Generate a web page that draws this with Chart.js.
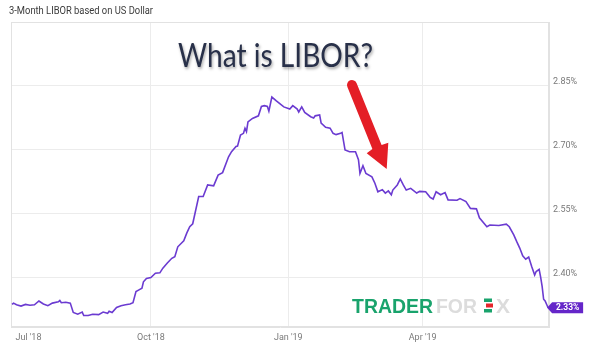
<!DOCTYPE html>
<html>
<head>
<meta charset="utf-8">
<title>3-Month LIBOR</title>
<script src="https://cdn.jsdelivr.net/npm/chart.js@4.4.1/dist/chart.umd.min.js"></script>
<style>
    html, body { margin: 0; padding: 0; background: #fff; }
    #wrap { width: 600px; height: 358px; }
</style>
</head>
<body>
<div id="wrap"><canvas id="libor" width="600" height="358"></canvas></div>
<script>
// days counted from 1 Jul 2018, rates in percent
var days = [-1, 0, 2, 5, 8, 11, 14, 17, 20, 23, 26, 30, 31, 32, 35, 38, 40, 43, 46, 47,
            50, 53, 57, 60, 63, 64, 66, 69, 72, 75, 78, 80, 82, 84, 86, 87, 89, 92, 95, 98,
            100, 103, 106, 108, 110, 114, 116, 118, 120, 124, 127, 130, 134, 137, 140, 144, 146, 149, 150, 152,
            154, 155, 156, 157, 160, 164, 166, 168, 170, 171, 173, 176, 181, 185, 187, 190, 191, 193, 195, 199,
            201, 202, 205, 206, 209, 212, 214, 216, 219, 220, 222, 225, 229, 231, 232, 234, 236, 240, 242, 244,
            247, 249, 251, 253, 254, 257, 259, 261, 263, 266, 270, 272, 276, 279, 281, 283, 286, 289, 291, 297,
            299, 303, 306, 310, 312, 317, 319, 325, 330, 332, 335, 337, 339, 341, 343, 345, 347, 349, 350, 352,
            353, 354, 355, 356, 358];
var rates = [2.338, 2.341, 2.337, 2.334, 2.338, 2.336, 2.337, 2.346, 2.339, 2.335, 2.341, 2.344, 2.347, 2.342, 2.343, 2.341, 2.319, 2.315, 2.320, 2.312,
             2.312, 2.315, 2.314, 2.320, 2.317, 2.322, 2.319, 2.331, 2.335, 2.337, 2.339, 2.342, 2.368, 2.372, 2.376, 2.391, 2.399, 2.401, 2.411, 2.412,
             2.423, 2.435, 2.446, 2.450, 2.473, 2.487, 2.505, 2.520, 2.527, 2.591, 2.591, 2.618, 2.616, 2.641, 2.647, 2.684, 2.696, 2.708, 2.709, 2.735,
             2.739, 2.751, 2.743, 2.766, 2.774, 2.780, 2.802, 2.804, 2.802, 2.791, 2.824, 2.815, 2.801, 2.796, 2.804, 2.796, 2.789, 2.801, 2.788, 2.778,
             2.775, 2.780, 2.782, 2.763, 2.753, 2.751, 2.739, 2.736, 2.739, 2.741, 2.700, 2.696, 2.696, 2.677, 2.645, 2.663, 2.645, 2.637, 2.622, 2.602,
             2.607, 2.599, 2.604, 2.595, 2.606, 2.618, 2.632, 2.618, 2.606, 2.610, 2.599, 2.603, 2.602, 2.589, 2.585, 2.602, 2.595, 2.600, 2.583, 2.582,
             2.586, 2.579, 2.563, 2.562, 2.541, 2.520, 2.524, 2.523, 2.526, 2.520, 2.501, 2.485, 2.470, 2.452, 2.444, 2.449, 2.427, 2.407, 2.415, 2.420,
             2.402, 2.380, 2.350, 2.346, 2.330];

var tickDays = [10, 92, 184, 274];   // Jul label sits a bit right of the edge
var tickLabels = ["Jul '18", "Oct '18", "Jan '19", "Apr '19"];
var rateTicks = [2.40, 2.55, 2.70, 2.85];

var subtitle = "3-Month LIBOR based on US Dollar";
var title = "What is LIBOR?";

var chart;

// squeeze/stretch a text run so it fills a given width
function fitText(c, text, x, y, w) {
    var m = c.measureText(text).width;
    c.save();
    c.translate(x, y);
    c.scale(w / m, 1);
    c.fillText(text, 0, 0);
    c.restore();
}

function drawWatermark(c) {
    c.save();
    c.font = 'bold 20px "Liberation Sans"';
    c.textBaseline = 'alphabetic';
    c.fillStyle = '#19a36c';
    fitText(c, 'TRADER', 352, 312.5, 81);
    c.fillStyle = '#dcdcdc';
    fitText(c, 'FOR', 436, 312.5, 41);
    fitText(c, 'X', 496, 312.5, 14);
    // little candles in place of the E
    c.fillStyle = '#19a36c';
    c.fillRect(484, 298.5, 8, 3.5);
    c.fillRect(484, 309, 8, 3.5);
    c.fillStyle = '#e5262b';
    c.fillRect(486, 303.5, 7, 4);
    c.restore();
}

function drawArrow(c) {
    c.save();
    c.fillStyle = '#e41e26';
    c.beginPath();
    c.moveTo(347.4, 86.9);
    c.arc(352, 85, 5, Math.PI * 0.88, Math.PI * 1.88);
    c.lineTo(381.6, 145.1);
    c.lineTo(388.3, 142.7);
    c.lineTo(386.7, 169);
    c.lineTo(366.7, 153.3);
    c.lineTo(372.4, 148.9);
    c.closePath();
    c.fill();
    c.restore();
}

var overlay = {
    id: 'overlay',
    beforeDraw: function (chart) {
        var c = chart.ctx;
        c.save();
        c.fillStyle = '#fff';
        c.fillRect(0, 0, chart.width, chart.height);
        c.restore();
    },
    beforeDatasetsDraw: function (chart) {
        var c = chart.ctx, a = chart.chartArea;
        c.save();
        c.strokeStyle = '#e2e2e2';
        c.lineWidth = 1;
        c.strokeRect(a.left + 0.5, a.top + 0.5, a.right - a.left - 1, a.bottom - a.top - 1);
        c.restore();
        drawWatermark(c);
    },
    afterDraw: function (chart) {
        var c = chart.ctx;

        c.save();
        c.font = '10px Roboto';
        c.fillStyle = '#3a3a3a';
        fitText(c, subtitle, 9, 13.5, 144);

        c.font = '32px Lato';
        c.fillStyle = '#283049';
        c.shadowColor = 'rgba(0,0,0,0.35)';
        c.shadowBlur = 3;
        c.shadowOffsetX = 1;
        c.shadowOffsetY = 2;
        fitText(c, title, 178, 67, 195);
        c.restore();

        drawArrow(c);

        // last value tag
        var meta = chart.getDatasetMeta(0);
        var pt = meta.data[meta.data.length - 1];
        var bx = pt.x, by = pt.y;
        c.save();
        c.fillStyle = '#6526c9';
        c.beginPath();
        c.moveTo(bx - 1, by);
        c.lineTo(bx + 4, by - 5.5);
        c.lineTo(bx + 35, by - 5.5);
        c.lineTo(bx + 35, by + 5.5);
        c.lineTo(bx + 4, by + 5.5);
        c.closePath();
        c.fill();
        c.fillStyle = '#fff';
        c.font = 'bold 8.5px Roboto';
        c.textAlign = 'center';
        c.textBaseline = 'middle';
        c.fillText(rates[rates.length - 1].toFixed(2) + '%', bx + 19.5, by + 0.5);
        c.restore();
    }
};

function initializeChart() {
    var points = days.map(function (d, i) { return { x: d, y: rates[i] }; });

    chart = new Chart(document.getElementById('libor'), {
        type: 'line',
        data: {
            datasets: [{
                label: subtitle,
                data: points,
                borderColor: '#6b3bd1',
                borderWidth: 1.6,
                pointRadius: 0,
                tension: 0,
                fill: false
            }]
        },
        options: {
            responsive: false,
            animation: false,
            devicePixelRatio: 1,
            layout: { padding: { left: 11, top: 22, right: 0, bottom: 0 } },
            plugins: {
                legend: { display: false },
                tooltip: { enabled: false }
            },
            scales: {
                x: {
                    type: 'linear',
                    min: -1.7,
                    max: 358.6,
                    afterBuildTicks: function (scale) {
                        scale.ticks = tickDays.map(function (v) { return { value: v }; });
                    },
                    afterFit: function (scale) { scale.height = 31; },
                    grid: {
                        drawTicks: false,
                        color: function (ctx) { return ctx.index === 0 ? 'rgba(0,0,0,0)' : '#ececec'; }
                    },
                    border: { color: '#e2e2e2' },
                    ticks: {
                        autoSkip: false,
                        maxRotation: 0,
                        padding: 5.5,
                        color: '#7a7a7a',
                        font: { family: 'Roboto', size: 9 },
                        callback: function (value, index) { return tickLabels[index]; }
                    }
                },
                y: {
                    position: 'right',
                    min: 2.285,
                    max: 3.0,
                    afterBuildTicks: function (scale) {
                        scale.ticks = rateTicks.map(function (v) { return { value: v }; });
                    },
                    afterFit: function (scale) { scale.width = 51; },
                    grid: { drawTicks: false, color: '#ececec' },
                    border: { color: '#e2e2e2' },
                    ticks: {
                        padding: 4,
                        labelOffset: -4,
                        color: '#7a7a7a',
                        font: { family: 'Roboto', size: 9 },
                        callback: function (value) { return value.toFixed(2) + '%'; }
                    }
                }
            }
        },
        plugins: [overlay]
    });
}

initializeChart();
</script>
</body>
</html>
